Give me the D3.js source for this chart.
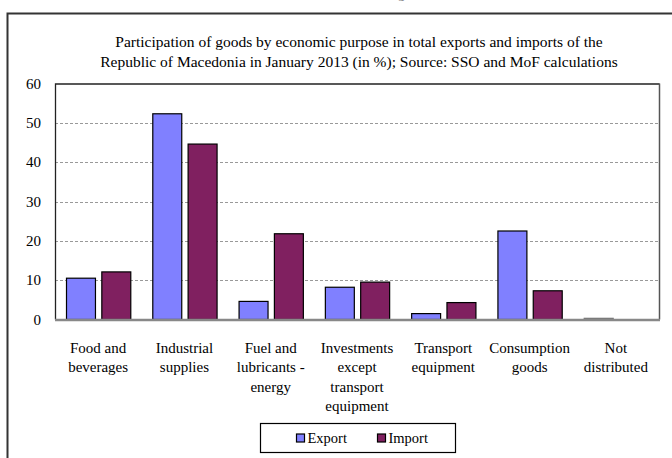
<!DOCTYPE html>
<html>
<head>
<meta charset="utf-8">
<script src="https://cdn.jsdelivr.net/npm/d3@7"></script>
<style>
  body { margin: 0; background: #fff; }
  svg text { font-family: "Liberation Serif", "DejaVu Serif", serif; fill: #000; }
</style>
</head>
<body>
<svg id="chart" width="672" height="458"></svg>
<script>
// chart data
var categories = [
  ["Food and", "beverages"],
  ["Industrial", "supplies"],
  ["Fuel and", "lubricants -", "energy"],
  ["Investments", "except", "transport", "equipment"],
  ["Transport", "equipment"],
  ["Consumption", "goods"],
  ["Not", "distributed"]
];
var seriesNames = ["Export", "Import"];
var exportValues = [10.5, 52.3, 4.6, 8.2, 1.5, 22.5, 0.3];
var importValues = [12.1, 44.6, 21.8, 9.5, 4.3, 7.3, 0.0];
var yTicks = [0, 10, 20, 30, 40, 50, 60];
var titleLines = [
  "Participation of goods by economic purpose in total exports and imports of the",
  "Republic of Macedonia in January 2013 (in %); Source: SSO and MoF calculations"
];

var colors = { Export: "#8080ff", Import: "#802060" };

var svg = d3.select("#chart");

// outer frame (runs off the right and bottom of the picture)
svg.append("path")
  .attr("d", "M7.5,470 V13.5 H680")
  .attr("fill", "none")
  .attr("stroke", "#333")
  .attr("stroke-width", 2);

// bit of the heading above that is cut off
svg.append("text")
  .attr("x", 398).attr("y", -2)
  .attr("font-size", 14)
  .style("fill", "#777")
  .text("g");

// title: one font size for both lines, fitted to the original's width
var titleText = titleLines.map(function(line, i){
  return svg.append("text")
    .attr("x", 359).attr("y", 47 + i * 20)
    .attr("text-anchor", "middle")
    .attr("font-size", 15)
    .text(line);
});
var widest = d3.max(titleText, function(t){ return t.node().getComputedTextLength(); });
titleText.forEach(function(t){ t.attr("font-size", 15 * 518 / widest); });

var plotLeft = 55, plotRight = 659, plotTop = 83.5, plotBottom = 319.5;

var x0 = d3.scaleBand()
  .domain(d3.range(categories.length))
  .range([plotLeft, plotRight])
  .paddingInner(0.255)
  .paddingOuter(0.1275);

var x1 = d3.scaleBand()
  .domain(seriesNames)
  .range([0, x0.bandwidth()])
  .paddingInner(0.18);

var y = d3.scaleLinear().domain([0, 60]).range([plotBottom, plotTop]);

// gridlines
svg.append("g")
  .selectAll("line")
  .data(yTicks.filter(function(d){ return d > 0 && d < 60; }))
  .enter().append("line")
  .attr("x1", plotLeft).attr("x2", plotRight)
  .attr("y1", function(d){ return Math.round(y(d)) + 0.5; })
  .attr("y2", function(d){ return Math.round(y(d)) + 0.5; })
  .attr("stroke", "#999")
  .attr("stroke-dasharray", "3,2");

// plot area border: top and left black, right grey
svg.append("path")
  .attr("d", "M" + (plotLeft + 0.5) + "," + plotBottom + " V" + (plotTop + 0.5) + " H" + (plotRight + 0.5))
  .attr("fill", "none").attr("stroke", "#222").attr("stroke-width", 1.3);
svg.append("line")
  .attr("x1", plotRight + 0.5).attr("x2", plotRight + 0.5)
  .attr("y1", plotTop).attr("y2", plotBottom)
  .attr("stroke", "#555").attr("stroke-width", 1.5);

// y axis labels
var yAxis = d3.axisLeft(y).tickValues(yTicks).tickSize(0).tickPadding(14);
var ya = svg.append("g")
  .attr("transform", "translate(" + plotLeft + ",0)")
  .call(yAxis);
ya.select(".domain").remove();
ya.attr("font-size", 15).attr("font-family", null);
ya.selectAll("text").style("font-size", "15px");

// bars
var rows = categories.map(function(c, i){
  return [
    { key: "Export", i: i, v: exportValues[i] },
    { key: "Import", i: i, v: importValues[i] }
  ];
});

var groups = svg.append("g").selectAll("g")
  .data(rows)
  .enter().append("g")
  .attr("transform", function(d, i){ return "translate(" + x0(i) + ",0)"; });

groups.selectAll("rect")
  .data(function(d){ return d; })
  .enter().append("rect")
  .attr("x", function(d){ return x1(d.key) + 0.5; })
  .attr("y", function(d){ return y(d.v); })
  .attr("width", x1.bandwidth())
  .attr("height", function(d){ return Math.max(0, plotBottom - y(d.v)); })
  .attr("fill", function(d){ return colors[d.key]; })
  .attr("stroke", function(d){ return d.v < 1 ? "#777" : "#000"; })
  .attr("stroke-width", 1.2);

// x axis line
svg.append("line")
  .attr("x1", plotLeft).attr("x2", plotRight + 1)
  .attr("y1", plotBottom + 0.5).attr("y2", plotBottom + 0.5)
  .attr("stroke", "#888").attr("stroke-width", 2.5);

// category labels
categories.forEach(function(lines, i){
  var t = svg.append("text")
    .attr("text-anchor", "middle")
    .attr("font-size", 15);
  lines.forEach(function(l, j){
    t.append("tspan")
      .attr("x", x0(i) + x0.bandwidth() / 2)
      .attr("y", 353 + j * 19.3)
      .text(l);
  });
});

// legend
var legend = svg.append("g").attr("transform", "translate(260.5,423.5)");
legend.append("rect")
  .attr("width", 195).attr("height", 29)
  .attr("fill", "#fff").attr("stroke", "#000").attr("stroke-width", 1.2);
var legX = [36, 117];
seriesNames.forEach(function(name, i){
  legend.append("rect")
    .attr("x", legX[i]).attr("y", 10.5)
    .attr("width", 8).attr("height", 8)
    .attr("fill", colors[name]).attr("stroke", "#000").attr("stroke-width", 1.2);
  legend.append("text")
    .attr("x", legX[i] + 11).attr("y", 19.5)
    .attr("font-size", 14.5)
    .text(name);
});
</script>
</body>
</html>
